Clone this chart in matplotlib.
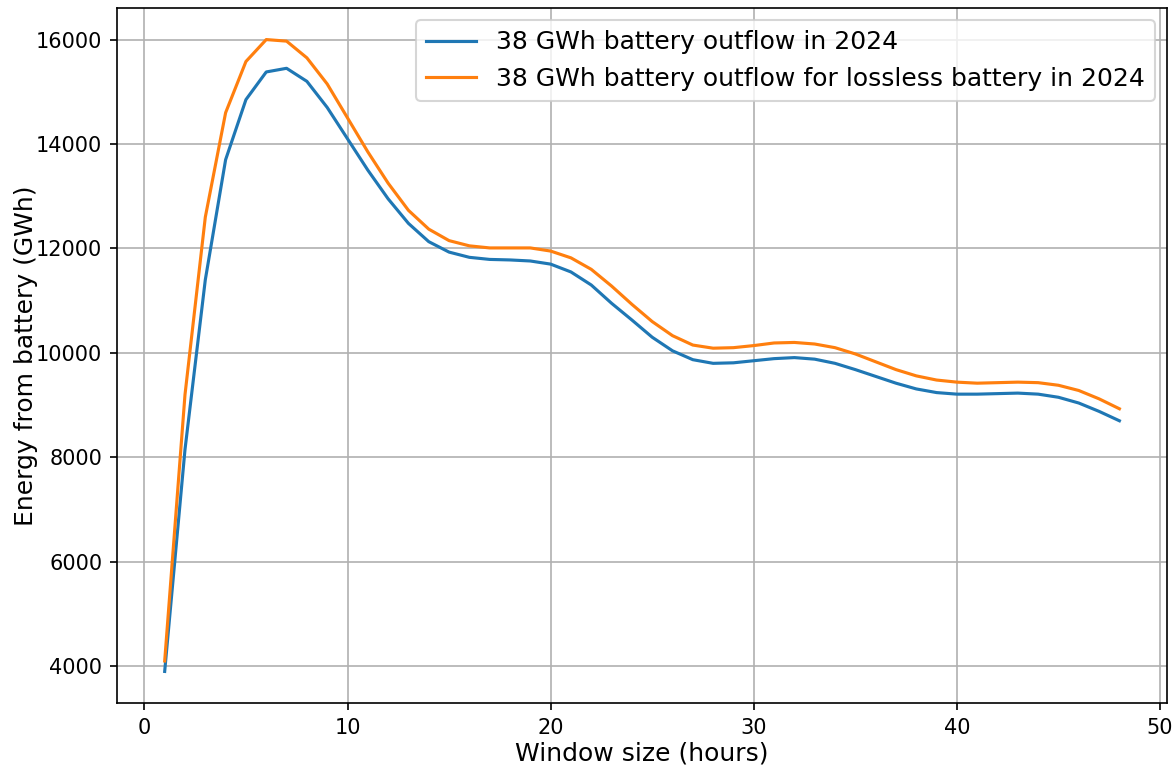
import matplotlib
matplotlib.use("Agg")
from matplotlib import pyplot as plt

# window sizes in hours
window_hours = list(range(1, 49))

# energy out of the battery (GWh)
battery_outflow = [
    3900, 8150, 11400, 13700, 14850, 15380, 15450, 15200, 14700, 14100,
    13500, 12950, 12480, 12130, 11930, 11830, 11790, 11780, 11760, 11700,
    11550, 11300, 10950, 10630, 10300, 10040, 9870, 9800, 9810, 9850,
    9890, 9910, 9880, 9800, 9680, 9550, 9420, 9310, 9240, 9210,
    9210, 9220, 9230, 9210, 9150, 9040, 8880, 8700,
]
lossless_outflow = [
    4100, 9200, 12600, 14600, 15580, 16000, 15970, 15650, 15150, 14500,
    13850, 13250, 12730, 12370, 12150, 12050, 12010, 12010, 12010, 11950,
    11820, 11600, 11280, 10930, 10600, 10330, 10150, 10090, 10100, 10140,
    10190, 10200, 10170, 10100, 9980, 9830, 9680, 9560, 9480, 9440,
    9420, 9430, 9440, 9430, 9380, 9280, 9120, 8930,
]

# rendered at 150 dpi so everything comes out 1.5x larger
fig = plt.figure(figsize=(1173 / 150, 767 / 150), dpi=150)
ax = fig.add_axes([0.0997, 0.0834, 0.8953, 0.9062])

ax.plot(window_hours, battery_outflow, label="38 GWh battery outflow in 2024")
ax.plot(window_hours, lossless_outflow, label="38 GWh battery outflow for lossless battery in 2024")

ax.set_xlabel("Window size (hours)", fontsize=12, labelpad=2)
ax.set_ylabel("Energy from battery (GWh)", fontsize=12, labelpad=-1)
ax.grid(True)
ax.legend(loc="upper right", fontsize=12)

fig.savefig("out.png", dpi=150)
